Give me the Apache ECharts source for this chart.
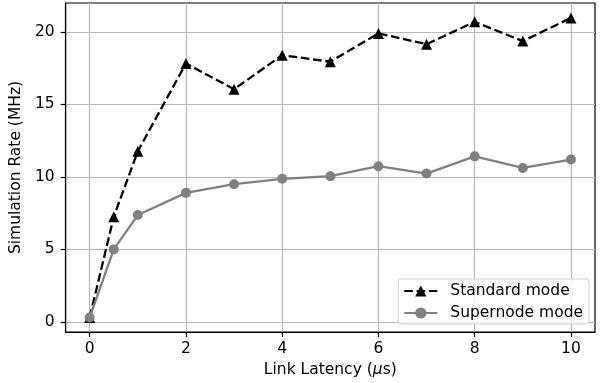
<!DOCTYPE html>
<html>
<head>
<meta charset="utf-8">
<script src="https://cdn.jsdelivr.net/npm/echarts@6/dist/echarts.min.js"></script>
<style>
  html, body { margin: 0; padding: 0; background: #fff; }
  #chart { width: 603px; height: 383px; }
</style>
</head>
<body>
<div id="chart"></div>
<script>
const latency = [0, 0.5, 1, 2, 3, 4, 5, 6, 7, 8, 9, 10];
const standardRate = [0.3, 7.25, 11.77, 17.83, 16.05, 18.4, 17.95, 19.9, 19.16, 20.7, 19.37, 20.97];
const supernodeRate = [0.3, 5.0, 7.37, 8.9, 9.5, 9.87, 10.05, 10.74, 10.23, 11.42, 10.62, 11.2];
const xTicks = [0, 2, 4, 6, 8, 10];
const yTicks = [0, 5, 10, 15, 20];

const font = "DejaVu Sans";
const fs = 15.5;
const chart = echarts.init(document.getElementById("chart"));

const toPairs = (ys) => latency.map((x, i) => [x, ys[i]]);

chart.setOption({
  animation: false,
  textStyle: { fontFamily: font },
  grid: {
    left: 65, right: 8, top: 3, bottom: 50,
    show: true, borderColor: "#000", borderWidth: 1.2, backgroundColor: "transparent"
  },
  xAxis: {
    type: "value",
    min: -0.5, max: 10.5,
    name: "Link Latency ({i|μ}s)",
    nameLocation: "middle",
    nameGap: 30,
    nameTextStyle: {
      fontSize: fs, color: "#000", fontFamily: font,
      rich: { i: { fontStyle: "italic", fontSize: fs, fontFamily: font } }
    },
    axisLine: { show: true, onZero: false, lineStyle: { color: "#000", width: 1.2 } },
    axisTick: { show: true, customValues: xTicks, length: 5, lineStyle: { color: "#000", width: 1.2 } },
    axisLabel: { customValues: xTicks, fontSize: fs, color: "#000", margin: 9 },
    splitLine: { show: true, lineStyle: { color: "#b8b8b8", width: 1.2 } }
  },
  yAxis: {
    type: "value",
    min: -0.7, max: 22,
    name: "Simulation Rate (MHz)",
    nameLocation: "middle",
    nameGap: 36,
    nameTextStyle: { fontSize: fs, color: "#000" },
    axisLine: { show: true, onZero: false, lineStyle: { color: "#000", width: 1.2 } },
    axisTick: { show: true, customValues: yTicks, length: 5, lineStyle: { color: "#000", width: 1.2 } },
    axisLabel: { customValues: yTicks, fontSize: fs, color: "#000", margin: 11 },
    splitLine: { show: true, lineStyle: { color: "#b8b8b8", width: 1.2 } }
  },
  legend: {
    right: 14, bottom: 59,
    orient: "vertical",
    itemWidth: 33, itemHeight: 14, itemGap: 6,
    padding: [4, 6, 3, 5],
    backgroundColor: "rgba(255,255,255,0.8)",
    borderColor: "#d0d0d0", borderWidth: 1, borderRadius: 3,
    textStyle: { fontSize: fs, color: "#000", padding: [0, 0, 0, 8] },
    data: ["Standard mode", "Supernode mode"]
  },
  series: [
    {
      name: "Standard mode",
      type: "line",
      data: toPairs(standardRate),
      symbol: "triangle",
      symbolSize: 11,
      itemStyle: { color: "#000" },
      lineStyle: { color: "#000", width: 2.3, type: [8.6, 3.7] },
      z: 3
    },
    {
      name: "Supernode mode",
      type: "line",
      data: toPairs(supernodeRate),
      symbol: "circle",
      symbolSize: 10,
      itemStyle: { color: "#808080" },
      lineStyle: { color: "#808080", width: 2.3 },
      z: 4
    }
  ]
});
</script>
</body>
</html>
